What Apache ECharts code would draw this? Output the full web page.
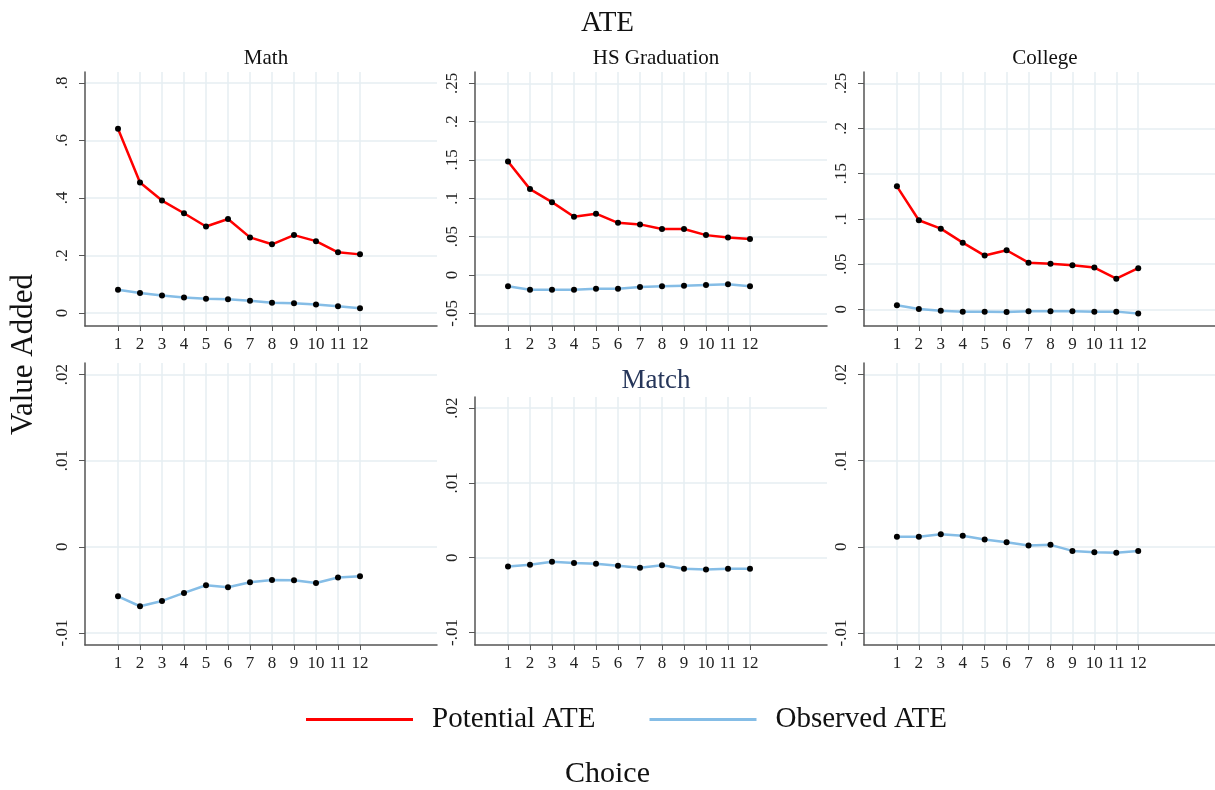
<!DOCTYPE html>
<html>
<head>
<meta charset="utf-8">
<script src="https://cdn.jsdelivr.net/npm/echarts@6/dist/echarts.min.js"></script>
<style>
  html, body { margin: 0; padding: 0; background: #fff; }
  #chart { width: 1215px; height: 790px; }
</style>
</head>
<body>
<div id="chart"></div>
<script>
// choices on the x axis
const choices = [1, 2, 3, 4, 5, 6, 7, 8, 9, 10, 11, 12]

// top row: ATE
const mathPotential = [0.641, 0.454, 0.391, 0.347, 0.301, 0.327, 0.263, 0.239, 0.271, 0.250, 0.211, 0.204]
const mathObserved = [0.081, 0.070, 0.061, 0.054, 0.050, 0.048, 0.043, 0.036, 0.034, 0.030, 0.024, 0.017]
const hsPotential = [0.148, 0.112, 0.095, 0.076, 0.080, 0.068, 0.066, 0.060, 0.060, 0.052, 0.049, 0.047]
const hsObserved = [-0.0148, -0.0191, -0.0191, -0.0191, -0.0178, -0.0178, -0.0157, -0.0148, -0.0139, -0.0130, -0.0122, -0.0148]
const collegePotential = [0.136, 0.0985, 0.0892, 0.0737, 0.0594, 0.0653, 0.0516, 0.0505, 0.0487, 0.0461, 0.0339, 0.0454]
const collegeObserved = [0.0044, 0.0004, -0.0015, -0.0026, -0.0026, -0.0030, -0.0022, -0.0022, -0.0022, -0.0026, -0.0026, -0.0048]

// bottom row: Match
const matchMath = [-0.00574, -0.0069, -0.00628, -0.00535, -0.00446, -0.00469, -0.00411, -0.00384, -0.00388, -0.00419, -0.00357, -0.00341]
const matchHs = [-0.00116, -0.00094, -0.00053, -0.00071, -0.0008, -0.00107, -0.00134, -0.00102, -0.00147, -0.00156, -0.00147, -0.00147]
const matchCollege = [0.00116, 0.00116, 0.00147, 0.00128, 0.00085, 0.00054, 0.00016, 0.00023, -0.00047, -0.00062, -0.0007, -0.00047]

// tick labels
const mathTicks = [0, 0.2, 0.4, 0.6, 0.8]
const hsTicks = [-0.05, 0, 0.05, 0.1, 0.15, 0.2, 0.25]
const collegeTicks = [0, 0.05, 0.1, 0.15, 0.2, 0.25]
const matchTicks = [-0.01, 0, 0.01, 0.02]

const RED = '#ff0000'
const BLUE = '#85bde6'
const FONT = '"Liberation Serif", serif'

const panels = [
  { box: [85, 72], range: [-0.045, 0.838], ticks: mathTicks, potential: mathPotential, observed: mathObserved, title: 'Math' },
  { box: [475, 72], range: [-0.0665, 0.2647], ticks: hsTicks, potential: hsPotential, observed: hsObserved, title: 'HS Graduation' },
  { box: [864, 72], range: [-0.0185, 0.2625], ticks: collegeTicks, potential: collegePotential, observed: collegeObserved, title: 'College' },
  { box: [85, 363], range: [-0.0114, 0.02135], ticks: matchTicks, observed: matchMath },
  { box: [475, 397], range: [-0.01166, 0.02147], ticks: matchTicks, observed: matchHs },
  { box: [864, 363], range: [-0.0114, 0.02135], ticks: matchTicks, observed: matchCollege }
]

const fmt = v => {
  if (Math.abs(v) < 1e-9) return '0'
  return String(+v.toFixed(3)).replace('0.', '.')
}

const pairs = arr => choices.map((c, i) => [c, arr[i]])

const grids = [], xAxes = [], yAxes = [], series = []
const titles = [
  { text: 'ATE', left: 'center', top: 4, textStyle: { fontFamily: FONT, fontSize: 29, fontWeight: 'normal', color: '#111' } },
  { text: 'Match', left: 651, top: 362, textAlign: 'center', textStyle: { fontFamily: FONT, fontSize: 27, fontWeight: 'normal', color: '#26365a' } }
]

panels.forEach((p, i) => {
  grids.push({ left: p.box[0], top: p.box[1], width: 352, height: (i < 3 ? 326 : 645) - p.box[1] })
  xAxes.push({
    type: 'value', gridIndex: i, min: -0.5, max: 15.5,
    axisLine: { onZero: false, lineStyle: { color: '#555', width: 1.5 } },
    axisTick: { show: true, length: 5, customValues: choices, lineStyle: { color: '#555' } },
    axisLabel: { customValues: choices, margin: 10, fontFamily: FONT, fontSize: 17, color: '#222' },
    splitLine: { show: true, lineStyle: { color: '#e6eef2', width: 1.5 } }
  })
  yAxes.push({
    type: 'value', gridIndex: i, min: p.range[0], max: p.range[1],
    axisLine: { show: true, onZero: false, lineStyle: { color: '#555', width: 1.5 } },
    axisTick: { show: true, length: 6, customValues: p.ticks, lineStyle: { color: '#555' } },
    axisLabel: { customValues: p.ticks, rotate: 90, margin: 14, formatter: fmt, fontFamily: FONT, fontSize: 17, color: '#222' },
    splitLine: { show: true, lineStyle: { color: '#e6eef2', width: 1.5 } }
  })
  if (p.potential) {
    series.push({
      name: 'Potential ATE', type: 'line', xAxisIndex: i, yAxisIndex: i,
      data: pairs(p.potential), symbol: 'circle', symbolSize: 6,
      lineStyle: { color: RED, width: 2.5 }, itemStyle: { color: '#000' }
    })
  }
  series.push({
    name: 'Observed ATE', type: 'line', xAxisIndex: i, yAxisIndex: i,
    data: pairs(p.observed), symbol: 'circle', symbolSize: 6,
    lineStyle: { color: BLUE, width: 2.5 }, itemStyle: { color: '#000' }
  })
  if (p.title) {
    titles.push({
      text: p.title, left: p.box[0] + 176, top: 43, textAlign: 'center',
      textStyle: { fontFamily: FONT, fontSize: 21, fontWeight: 'normal', color: '#111' }
    })
  }
})

titles.push({ text: 'Choice', left: 'center', top: 754, textStyle: { fontFamily: FONT, fontSize: 30, fontWeight: 'normal', color: '#111' } })

const chart = echarts.init(document.getElementById('chart'))
chart.setOption({
  animation: false,
  backgroundColor: '#fff',
  title: titles,
  grid: grids,
  xAxis: xAxes,
  yAxis: yAxes,
  series: series,
  graphic: [{
    type: 'text', left: 8, top: 274, rotation: Math.PI / 2,
    style: { text: 'Value Added', font: '31px "Liberation Serif", serif', fill: '#111' }
  }],
  legend: {
    left: 301, top: 700, itemGap: 54, itemWidth: 107, itemHeight: 3, icon: 'rect',
    textStyle: { fontFamily: FONT, fontSize: 29, color: '#111', padding: [0, 0, 0, 14] },
    data: [
      { name: 'Potential ATE', itemStyle: { color: RED } },
      { name: 'Observed ATE', itemStyle: { color: BLUE } }
    ]
  }
})
window.addEventListener('resize', () => chart.resize())
</script>
</body>
</html>
